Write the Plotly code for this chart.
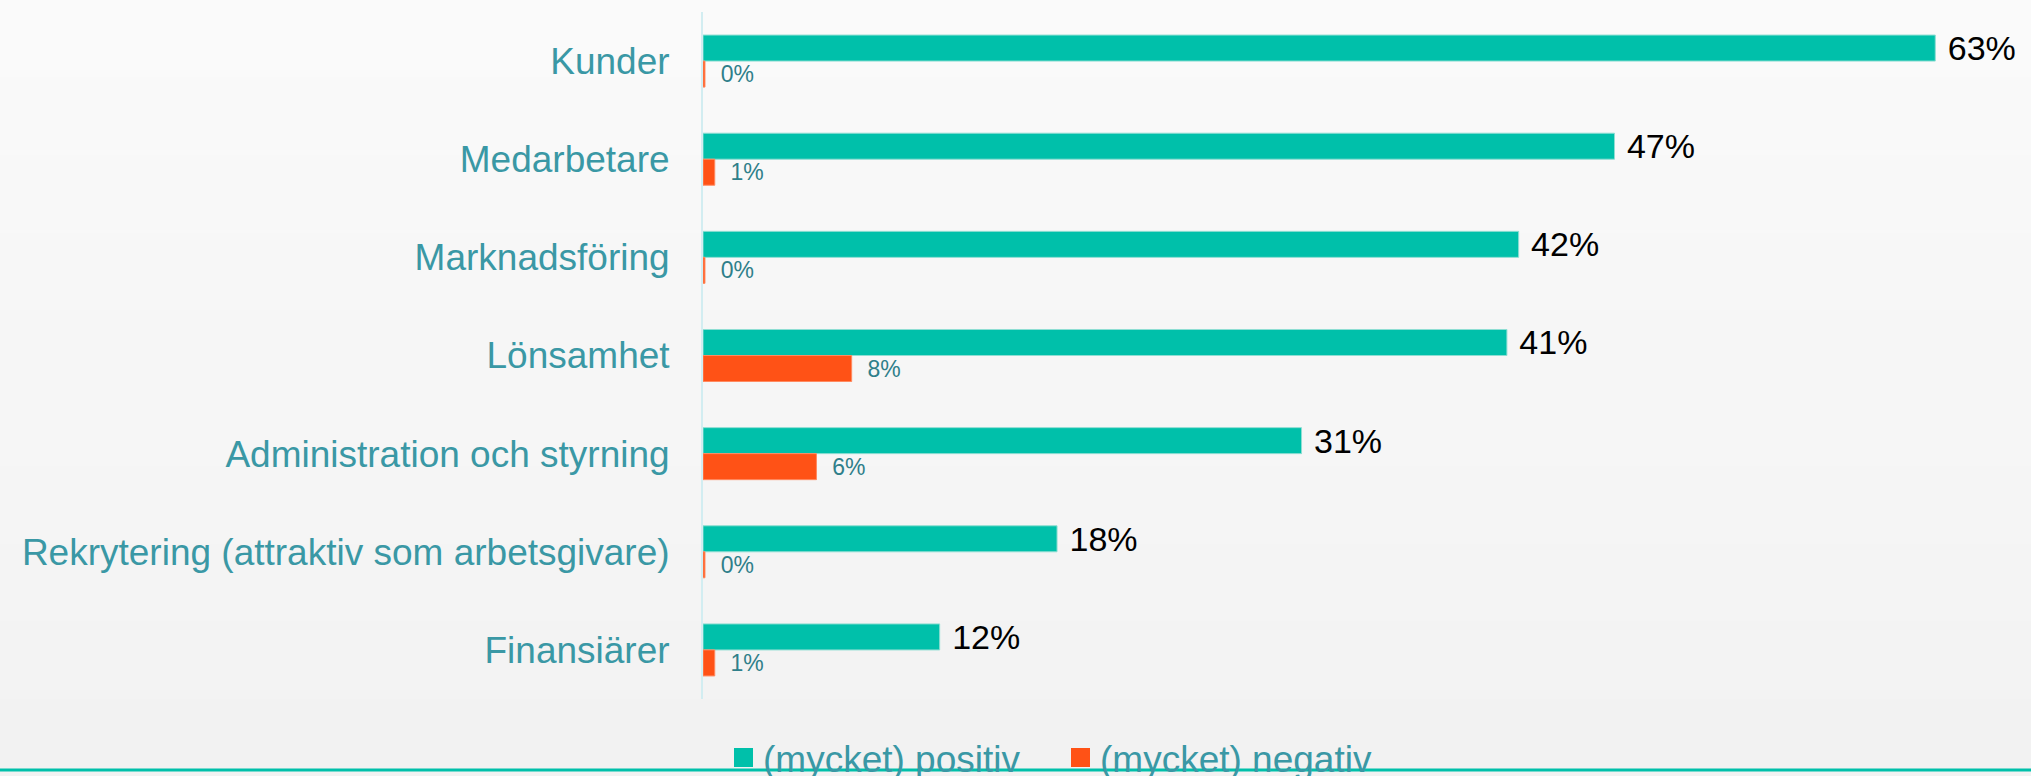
import plotly.graph_objects as go

# data
categories = ["Kunder", "Medarbetare", "Marknadsföring", "Lönsamhet",
              "Administration och styrning", "Rekrytering (attraktiv som arbetsgivare)",
              "Finansiärer"]
positive = [63.0, 46.6, 41.7, 41.1, 30.6, 18.1, 12.1]
negative = [0.1, 0.6, 0.1, 7.6, 5.8, 0.1, 0.6]
series_names = ["(mycket) positiv", "(mycket) negativ"]

green = "#00c0aa"
orange = "#ff5216"
teal_text = "#3a98a5"
font_family = "Arial, Liberation Sans, sans-serif"

W, H = 2031, 776
L, R, T, B = 703, 37, 12, 77
plot_w = W - L - R
plot_h = H - T - B
xmax = plot_w / 19.56


def px_x(p):
    return (p - L) / plot_w


def px_y(p):
    return (H - B - p) / plot_h


fig = go.Figure()
fig.add_trace(go.Bar(
    y=categories, x=positive, orientation="h", name=series_names[0],
    marker=dict(color=green, line=dict(color="#8fded3", width=1)),
    text=["\u00a0%.0f%%" % v for v in positive], textposition="outside",
    textfont=dict(size=34, color="black", family=font_family),
    constraintext="none", cliponaxis=False, showlegend=False,
))
fig.add_trace(go.Bar(
    y=categories, x=negative, orientation="h", name=series_names[1],
    marker=dict(color=orange, line=dict(color="#ff8a60", width=1)),
    text=["\u00a0\u00a0%.0f%%" % v for v in negative], textposition="outside",
    textfont=dict(size=23, color="#2f7f8a", family=font_family),
    constraintext="none", cliponaxis=False, showlegend=False,
))

# soft grey gradient background
shapes = []
steps = 10
for i in range(steps):
    g = 250 - int(round(8 * i / (steps - 1)))
    shapes.append(dict(type="rect", xref="paper", yref="paper", layer="below",
                       x0=px_x(0), x1=px_x(W), y0=px_y(H * (i + 1) / steps), y1=px_y(H * i / steps),
                       fillcolor="rgb(%d,%d,%d)" % (g, g, g), line=dict(width=0)))

# bottom rule
shapes.append(dict(type="line", xref="paper", yref="paper", x0=px_x(0), x1=px_x(W),
                   y0=px_y(770), y1=px_y(770), line=dict(color=green, width=3)))

# legend swatches + labels
legend_items = [(734, green, series_names[0]), (1071, orange, series_names[1])]
annotations = []
for x0, col, name in legend_items:
    shapes.append(dict(type="rect", xref="paper", yref="paper", x0=px_x(x0), x1=px_x(x0 + 19),
                       y0=px_y(767), y1=px_y(748), fillcolor=col, line=dict(width=0)))
    annotations.append(dict(xref="paper", yref="paper", x=px_x(x0 + 27), y=px_y(759),
                            xanchor="left", yanchor="middle", showarrow=False, text=name,
                            font=dict(size=37, color=teal_text, family=font_family)))

fig.update_layout(
    width=W, height=H,
    margin=dict(l=L, r=R, t=T, b=B, pad=0),
    paper_bgcolor="#f6f6f6", plot_bgcolor="rgba(0,0,0,0)",
    barmode="group", bargap=0.47, bargroupgap=0,
    font=dict(family=font_family),
    xaxis=dict(range=[0, xmax], visible=False, fixedrange=True),
    yaxis=dict(
        categoryorder="array", categoryarray=categories, autorange="reversed",
        showline=True, linecolor="#d2edf1", linewidth=2, showgrid=False,
        ticks="", ticklabelstandoff=24,
        tickfont=dict(size=37, color=teal_text, family=font_family),
    ),
    shapes=shapes, annotations=annotations,
)

fig.write_html("out.html", config=dict(displayModeBar=False),
               post_script="document.body.style.margin='0';")
